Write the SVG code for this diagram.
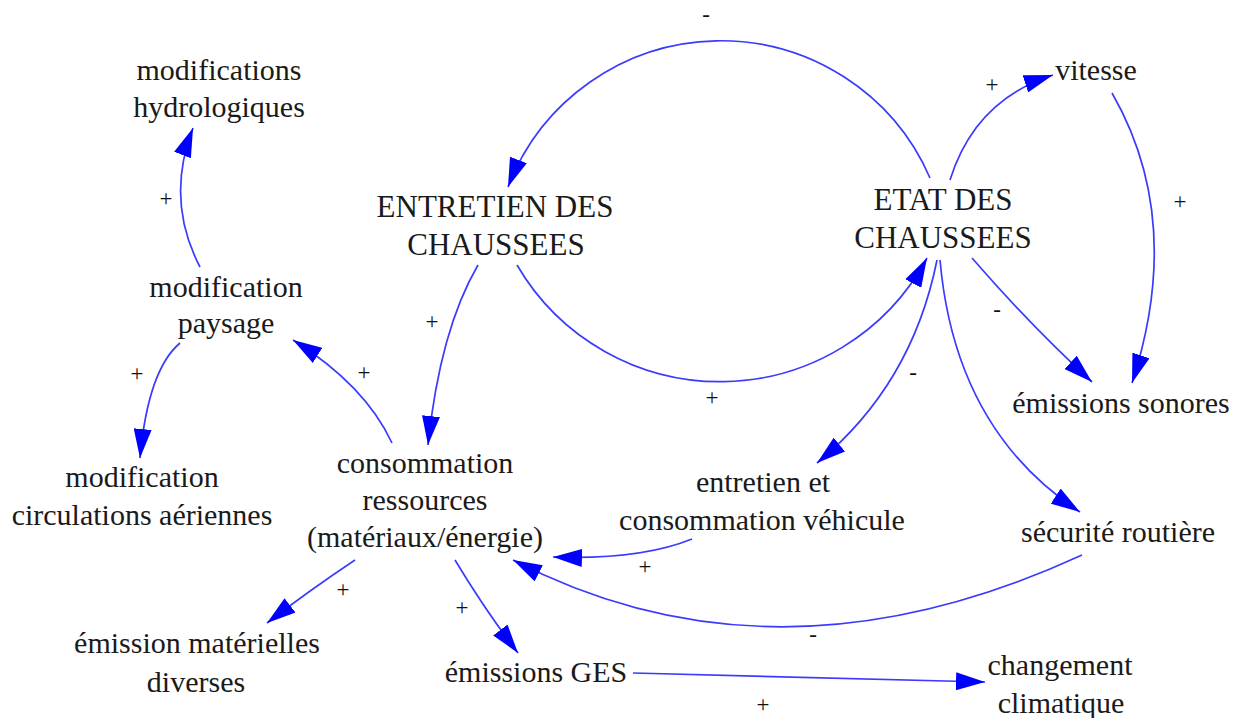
<svg xmlns="http://www.w3.org/2000/svg" width="1241" height="718" viewBox="0 0 1241 718">
<style>
text{font-family:'Liberation Serif','DejaVu Serif','Times New Roman',serif}
.n{font-size:30px;fill:#1a1a1a;text-anchor:middle}
.b{font-size:31px}
.s{font-size:23px;fill:#111;text-anchor:middle}
.c{fill:none;stroke:#3b3bff;stroke-width:1.7;marker-end:url(#ah)}
</style>
<defs>
<marker id="ah" markerUnits="userSpaceOnUse" markerWidth="30" markerHeight="18" refX="29" refY="9" orient="auto">
<path d="M0,0 L29,9 L0,18 Z" fill="#0000ff"/>
</marker>
</defs>
<rect width="1241" height="718" fill="#ffffff"/>
<g id="connectors">
<path class="c" d="M930,178 A228,228 0 0 0 508,187"/>
<path class="c" d="M517,265 A235,235 0 0 0 927,258"/>
<path class="c" d="M950,180 Q975,100 1053,75"/>
<path class="c" d="M1112,93 Q1185,220 1132,383"/>
<path class="c" d="M972,258 Q1030,325 1092,382"/>
<path class="c" d="M937,260 Q912,385 817,463"/>
<path class="c" d="M940,260 Q955,430 1080,512"/>
<path class="c" d="M478,265 Q440,330 428,445"/>
<path class="c" d="M392,443 Q365,385 293,340"/>
<path class="c" d="M200,267 Q165,200 193,128"/>
<path class="c" d="M180,343 Q148,370 140,458"/>
<path class="c" d="M355,560 Q310,590 267,623"/>
<path class="c" d="M455,560 Q485,610 518,653"/>
<path class="c" d="M692,539 Q640,560 553,557"/>
<path class="c" d="M1082,555 Q776,696 513,560"/>
<path class="c" d="M633,673 L985,682"/>
</g>
<g id="signs" font-family="Liberation Serif, serif">
<text class="s" x="706" y="22">-</text>
<text class="s" x="992" y="92">+</text>
<text class="s" x="1180" y="209">+</text>
<text class="s" x="997" y="317">-</text>
<text class="s" x="166" y="206">+</text>
<text class="s" x="432" y="329">+</text>
<text class="s" x="137" y="381">+</text>
<text class="s" x="364" y="380">+</text>
<text class="s" x="712" y="405">+</text>
<text class="s" x="913" y="380">-</text>
<text class="s" x="645" y="574">+</text>
<text class="s" x="343" y="597">+</text>
<text class="s" x="462" y="615">+</text>
<text class="s" x="813" y="642">-</text>
<text class="s" x="763" y="712">+</text>
</g>
<g id="modifications-hydrologiques"><text class="n" x="219" y="80">modifications</text><text class="n" x="219" y="117">hydrologiques</text></g>
<g id="modification-paysage"><text class="n" x="226" y="297">modification</text><text class="n" x="226" y="333">paysage</text></g>
<g id="entretien-chaussees"><text class="n b" x="495" y="217">ENTRETIEN DES</text><text class="n b" x="496" y="255">CHAUSSEES</text></g>
<g id="etat-chaussees"><text class="n b" x="943" y="210">ETAT DES</text><text class="n b" x="943" y="248">CHAUSSEES</text></g>
<g id="vitesse"><text class="n" x="1096" y="80">vitesse</text></g>
<g id="emissions-sonores"><text class="n" x="1121" y="413">émissions sonores</text></g>
<g id="modification-circulations"><text class="n" x="142" y="487">modification</text><text class="n" x="142" y="525">circulations aériennes</text></g>
<g id="consommation-ressources"><text class="n" x="425" y="473">consommation</text><text class="n" x="425" y="510">ressources</text><text class="n" x="425" y="547">(matériaux/énergie)</text></g>
<g id="entretien-vehicule"><text class="n" x="763" y="492">entretien et</text><text class="n" x="762" y="530">consommation véhicule</text></g>
<g id="securite-routiere"><text class="n" x="1118" y="542">sécurité routière</text></g>
<g id="emission-materielles"><text class="n" x="197" y="653">émission matérielles</text><text class="n" x="196" y="692">diverses</text></g>
<g id="emissions-ges"><text class="n" x="536" y="682">émissions GES</text></g>
<g id="changement-climatique"><text class="n" x="1060" y="675">changement</text><text class="n" x="1061" y="713">climatique</text></g>
</svg>
